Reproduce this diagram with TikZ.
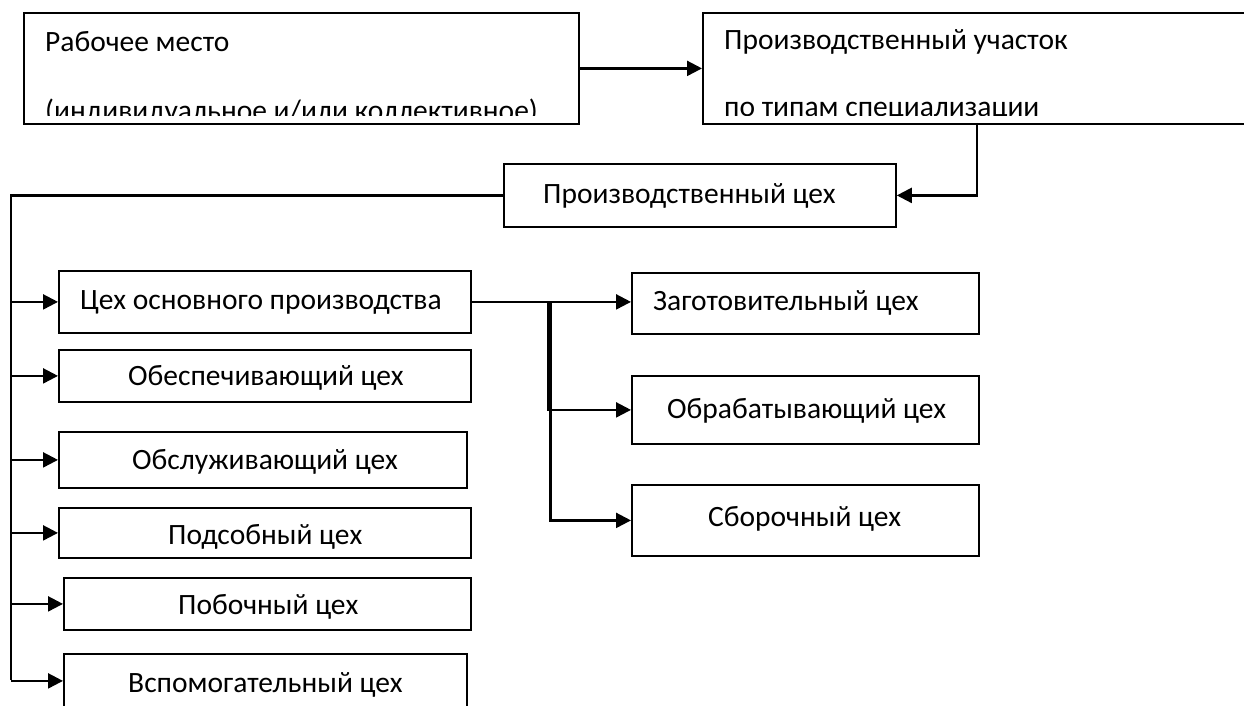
\documentclass[tikz,border=0pt]{standalone}
\usepackage{fontspec}
\setmainfont{Carlito}
\usetikzlibrary{arrows.meta}
\begin{document}
\begin{tikzpicture}[x=1pt,y=-1pt,
  box/.style={draw, line width=1.8pt, inner sep=0pt, anchor=north west},
  lbl/.style={font=\fontsize{29.5}{32}\selectfont, inner sep=0pt, anchor=west},
  conn/.style={line width=2.3pt},
  arr/.style={conn, -{Triangle[length=15pt,width=15pt]}},
]
\clip (0,0) rectangle (1244,706);
\fill[white] (0,0) rectangle (1244,706);
% top row
\node[box, minimum width=555pt, minimum height=111pt] (b1) at (23,12) {};
\node[lbl] (b1a) at (45,42) {Рабочее место};
\begin{scope}
  \clip (23,12) rectangle (578,116);
  \node[lbl] (b1b) at (45,112) {(индивидуальное и/или коллективное)};
\end{scope}
\node[box, minimum width=560pt, minimum height=111pt] (b2) at (702,12) {};
\node[lbl] (b2a) at (724,42) {Производственный участок};
\begin{scope}
  \clip (702,12) rectangle (1262,116);
  \node[lbl] (b2b) at (724,112) {по типам специализации};
\end{scope}
\draw[arr] (b1.east) -- (b2.west);
% workshop
\node[box, minimum width=392pt, minimum height=63pt] (prc) at (503,163) {};
\node[lbl] (prct) at (543,196) {Производственный цех};
\coordinate (b2d) at (977,123);
\draw[arr] (b2d) |- (prc.east);
% left column
\node[box, minimum width=412pt, minimum height=62pt] (l1) at (58,270) {};
\node[lbl] (l1t) at (80,302) {Цех основного производства};
\node[box, minimum width=412pt, minimum height=52pt] (l2) at (58,349) {};
\node[lbl] (l2t) at (128,378) {Обеспечивающий цех};
\node[box, minimum width=408pt, minimum height=56pt] (l3) at (58,431) {};
\node[lbl] (l3t) at (132,462) {Обслуживающий цех};
\node[box, minimum width=412pt, minimum height=50pt] (l4) at (58,507) {};
\node[lbl] (l4t) at (168,537) {Подсобный цех};
\node[box, minimum width=407pt, minimum height=52pt] (l5) at (63,577) {};
\node[lbl] (l5t) at (178,607) {Побочный цех};
\node[box, minimum width=403pt, minimum height=54pt] (l6) at (63,653) {};
\node[lbl] (l6t) at (128,685) {Вспомогательный цех};
\coordinate (tb) at (11,680);
\draw[conn] (prc.west) -| (tb);
\foreach \n in {l1,l2,l3,l4,l5,l6}{
  \draw[arr] (tb |- \n.west) -- (\n.west);
}
% right column
\node[box, minimum width=347pt, minimum height=61pt] (r1) at (631,272) {};
\node[lbl] (r1t) at (653,303) {Заготовительный цех};
\node[box, minimum width=347pt, minimum height=68pt] (r2) at (631,375) {};
\node[lbl] (r2t) at (667,411) {Обрабатывающий цех};
\node[box, minimum width=347pt, minimum height=71pt] (r3) at (631,484) {};
\node[lbl] (r3t) at (708,519) {Сборочный цех};
\coordinate (br) at (548,301);
\coordinate (br2) at (550.5,301);
\draw[arr] (l1.east) -- (l1.east -| r1.west);
\draw[arr] (br) |- (r2.west);
\draw[arr] (br2) |- (r3.west);
\end{tikzpicture}
\end{document}
